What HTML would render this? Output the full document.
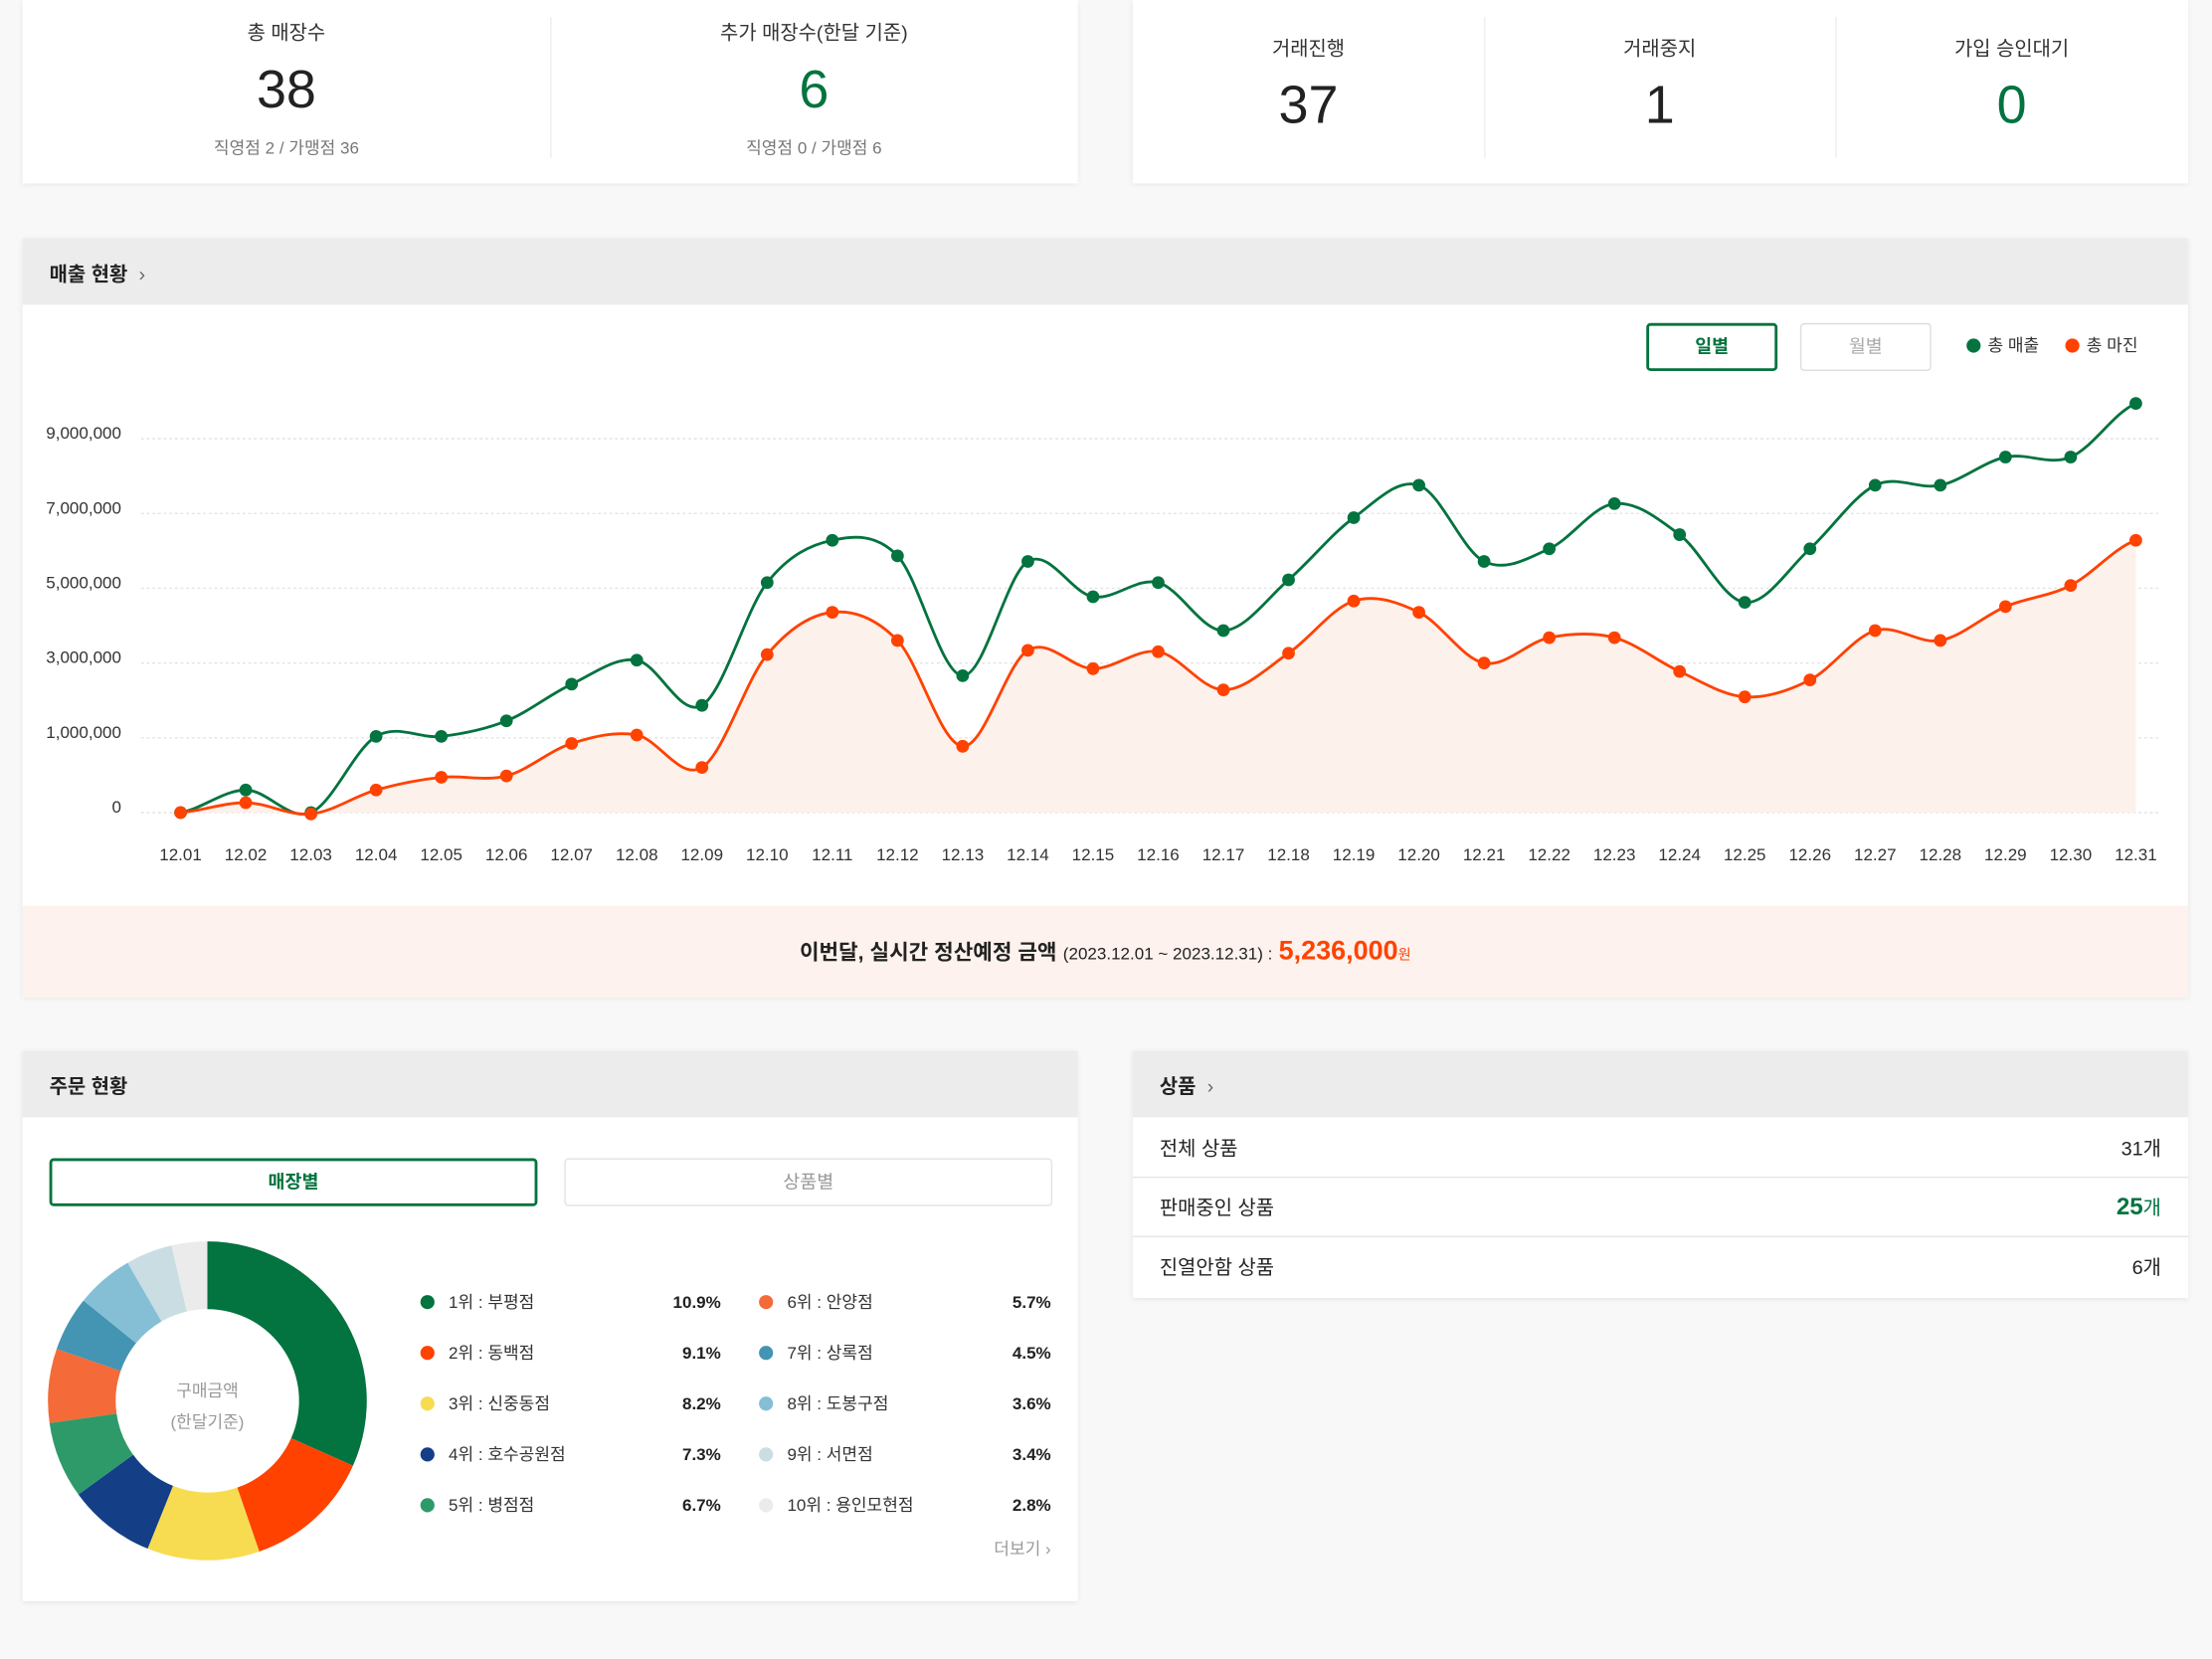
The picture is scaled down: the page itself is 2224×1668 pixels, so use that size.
<!DOCTYPE html>
<html><head><meta charset="utf-8">
<style>
*{margin:0;padding:0;box-sizing:border-box}
html,body{width:2224px;height:1668px;overflow:hidden;background:#f8f8f8}
#w{position:absolute;left:0;top:0;width:1568px;height:1176px;transform:scale(1.41837);transform-origin:0 0;font-family:"Liberation Sans","Noto Sans CJK KR",sans-serif;color:#222}
.card{position:absolute;background:#fff;box-shadow:0 1px 4px rgba(0,0,0,0.08)}
.abs{position:absolute}
.hdr{position:absolute;left:0;right:0;top:0;height:47px;background:#ececec;font-size:14px;font-weight:bold;padding:15px 0 0 19px}
.col{position:absolute;top:0;height:130px;text-align:center}
.lbl{font-size:14px;color:#333}
.num{font-size:38px;font-weight:500;line-height:1}
.sub{font-size:12px;color:#777}
.div{position:absolute;top:12px;width:1px;height:100px;background:#eee}
.lg{position:absolute;font-size:12px;color:#333;line-height:16px;white-space:nowrap}
.lg i{position:absolute;width:10px;height:10px;border-radius:50%;top:3px}
.pct{position:absolute;font-size:12px;font-weight:bold;text-align:right;line-height:16px}
.row{position:absolute;left:0;right:0;height:42px;font-size:14px;padding:0 19px;border-bottom:1px solid #e5e5e5}
</style></head><body><div id="w">

<div class="card" style="left:16px;top:0;width:748px;height:130px">
 <div class="col" style="left:0;width:374px"><div class="lbl abs" style="top:13px;width:100%">총 매장수</div><div class="num abs" style="top:45px;width:100%">38</div><div class="sub abs" style="top:96px;width:100%">직영점 2 / 가맹점 36</div></div>
 <div class="div" style="left:374px"></div>
 <div class="col" style="left:374px;width:374px"><div class="lbl abs" style="top:13px;width:100%">추가 매장수(한달 기준)</div><div class="num abs" style="top:45px;width:100%;color:#03733f">6</div><div class="sub abs" style="top:96px;width:100%">직영점 0 / 가맹점 6</div></div>
</div>
<div class="card" style="left:803px;top:0;width:748px;height:130px">
 <div class="col" style="left:0;width:249px"><div class="lbl abs" style="top:24px;width:100%">거래진행</div><div class="num abs" style="top:56px;width:100%">37</div></div>
 <div class="div" style="left:249px"></div>
 <div class="col" style="left:249px;width:249px"><div class="lbl abs" style="top:24px;width:100%">거래중지</div><div class="num abs" style="top:56px;width:100%">1</div></div>
 <div class="div" style="left:498px"></div>
 <div class="col" style="left:498px;width:250px"><div class="lbl abs" style="top:24px;width:100%">가입 승인대기</div><div class="num abs" style="top:56px;width:100%;color:#03733f">0</div></div>
</div>

<div class="card" style="left:16px;top:169px;width:1535px;height:538px">
 <div class="hdr">매출 현황 <span style="font-weight:normal;color:#666;margin-left:4px">&#x203A;</span></div>
 <div class="abs" style="left:1151px;top:60px;width:93px;height:34px;border:2px solid #03733f;border-radius:3px;color:#03733f;font-weight:bold;font-size:13px;text-align:center;line-height:30px">일별</div>
 <div class="abs" style="left:1260px;top:60px;width:93px;height:34px;border:1px solid #ddd;border-radius:3px;color:#aaa;font-size:13px;text-align:center;line-height:32px">월별</div>
 <div class="lg" style="left:1378px;top:68px"><i style="left:0;background:#03733f"></i><span style="margin-left:15px">총 매출</span></div>
 <div class="lg" style="left:1448px;top:68px"><i style="left:0;background:#ff4200"></i><span style="margin-left:15px">총 마진</span></div>
 <div class="abs" style="left:0;right:0;top:473px;height:65px;background:#fdf2ed;text-align:center;line-height:65px;white-space:nowrap">
  <b style="font-size:15px">이번달, 실시간 정산예정 금액</b> <span style="font-size:12px">(2023.12.01 ~ 2023.12.31) :</span> <b style="font-size:19px;color:#ff4200">5,236,000</b><span style="font-size:10px;color:#ff4200">원</span>
 </div>
</div>
<svg id="ch" class="abs" style="left:0;top:0" width="1568" height="640"></svg>

<div class="card" style="left:16px;top:745px;width:748px;height:390px">
 <div class="hdr">주문 현황</div>
 <div class="abs" style="left:19px;top:76px;width:346px;height:34px;border:2px solid #03733f;border-radius:3px;color:#03733f;font-weight:bold;font-size:13px;text-align:center;line-height:30px">매장별</div>
 <div class="abs" style="left:384px;top:76px;width:346px;height:34px;border:1px solid #e3e3e3;border-radius:3px;color:#999;font-size:13px;text-align:center;line-height:32px">상품별</div>
 <div class="abs" style="right:19px;top:344px;font-size:12px;color:#999">더보기 &#x203A;</div>
</div>
<svg id="dn" class="abs" style="left:0;top:860px" width="300" height="260"></svg>
<div id="leg"></div>

<div class="card" style="left:803px;top:745px;width:748px;height:175px">
 <div class="hdr">상품 <span style="font-weight:normal;color:#666;margin-left:4px">&#x203A;</span></div>
 <div class="row" style="top:48px;line-height:42px">전체 상품<span style="float:right">31개</span></div>
 <div class="row" style="top:90px;line-height:42px">판매중인 상품<span style="float:right"><b style="color:#03733f;font-size:17px">25</b><span style="color:#03733f">개</span></span></div>
 <div class="row" style="top:132px;line-height:42px;border:none">진열안함 상품<span style="float:right">6개</span></div>
</div>

<script>
var G=[576,560,576,522,522,511,485,468,500,413,383,394,479,398,423,413,447,411,367,344,398,389,357,379,427,389,344,344,324,324,286];
var O=[576,569,577,560,551,550,527,521,544,464,434,454,529,461,474,462,489,463,426,434,470,452,452,476,494,482,447,454,430,415,383];
function X(i){return 128+i*46.2}
function path(a){var p='M'+X(0)+','+a[0];for(var i=0;i<a.length-1;i++){var y0=a[Math.max(0,i-1)],y1=a[i],y2=a[i+1],y3=a[Math.min(a.length-1,i+2)];var s=46.2/3;p+=' C'+(X(i)+s)+','+(y1+(y2-y0)/6)+' '+(X(i+1)-s)+','+(y2-(y3-y1)/6)+' '+X(i+1)+','+y2;}return p}
var s='';
[311,364,417,470,523,576].forEach(function(y,k){s+='<line x1="100" x2="1530" y1="'+y+'" y2="'+y+'" stroke="#e4e4e4" stroke-dasharray="2,2"/>';s+='<text x="86" y="'+(y-0)+'" font-size="12" text-anchor="end" fill="#333">'+['9,000,000','7,000,000','5,000,000','3,000,000','1,000,000','0'][k]+'</text>'});
var po=path(O);
s+='<path d="'+po+' L'+X(30)+',576 L'+X(0)+',576 Z" fill="#fdf1ec"/>';
s+='<path d="'+path(G)+'" fill="none" stroke="#03733f" stroke-width="2"/>';
s+='<path d="'+po+'" fill="none" stroke="#ff4200" stroke-width="2"/>';
for(var i=0;i<31;i++){s+='<circle cx="'+X(i)+'" cy="'+G[i]+'" r="4.5" fill="#03733f"/><circle cx="'+X(i)+'" cy="'+O[i]+'" r="4.5" fill="#ff4200"/>';
s+='<text x="'+X(i)+'" y="610" font-size="12" text-anchor="middle" fill="#333">12.'+(i<9?'0':'')+(i+1)+'</text>';}
document.getElementById('ch').innerHTML=s;
var A=[0,114,161,202,234,262,289,309,330,347,360],C=['#03733f','#ff4200','#f7dc52','#143f87','#2e9a6a','#f46a38','#4494b3','#84bfd6','#c9dde3','#ebebeb'];
var cx=147,cy=133,R=113,r=65,d='';
function pt(a,rr){a=a*Math.PI/180;return (cx+rr*Math.sin(a))+','+(cy-rr*Math.cos(a))}
for(var k=0;k<10;k++){var l=(A[k+1]-A[k])>180?1:0;d+='<path d="M'+pt(A[k],R)+' A'+R+','+R+' 0 '+l+' 1 '+pt(A[k+1],R)+' L'+pt(A[k+1],r)+' A'+r+','+r+' 0 '+l+' 0 '+pt(A[k],r)+' Z" fill="'+C[k]+'"/>';}
d+='<text x="147" y="130" font-size="12" fill="#999" text-anchor="middle">구매금액</text><text x="147" y="152" font-size="12" fill="#999" text-anchor="middle">(한달기준)</text>';
document.getElementById('dn').innerHTML=d;
var N=['1위 : 부평점','2위 : 동백점','3위 : 신중동점','4위 : 호수공원점','5위 : 병점점','6위 : 안양점','7위 : 상록점','8위 : 도봉구점','9위 : 서면점','10위 : 용인모현점'],P=['10.9%','9.1%','8.2%','7.3%','6.7%','5.7%','4.5%','3.6%','3.4%','2.8%'];
var h='';for(var k=0;k<10;k++){var c=k<5?0:1,y=915+(k%5)*36;h+='<div class="lg" style="left:'+(c?538:298)+'px;top:'+y+'px"><i style="left:0;background:'+C[k]+'"></i><span style="margin-left:20px">'+N[k]+'</span></div><div class="pct" style="left:'+(c?685:451)+'px;width:60px;top:'+y+'px">'+P[k]+'</div>';}
document.getElementById('leg').innerHTML=h;
</script>
</div></body></html>
